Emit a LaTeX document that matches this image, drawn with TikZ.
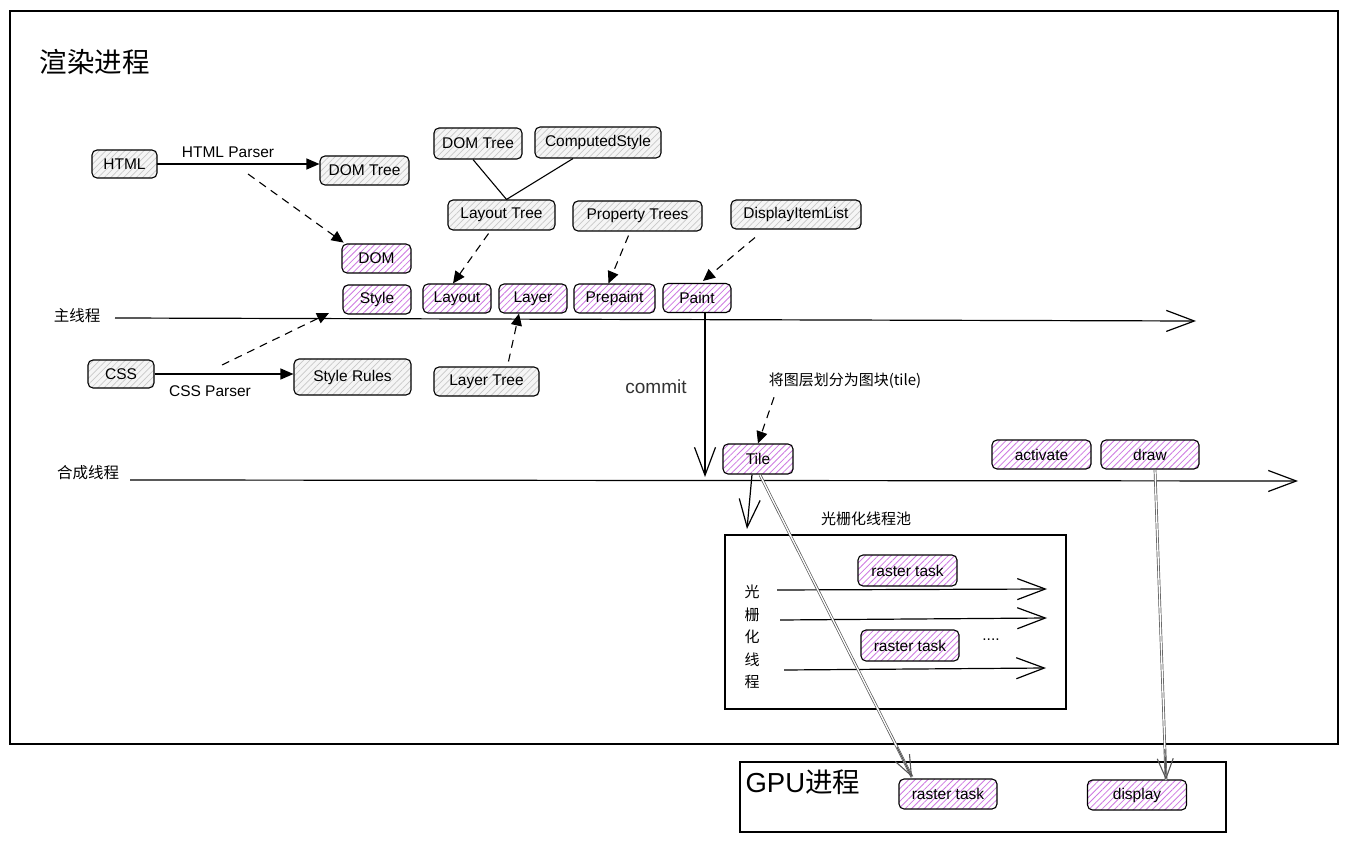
\documentclass[tikz,border=0pt]{standalone}
\usepackage{fontspec}
\setmainfont{Liberation Sans}
\newfontfamily\cjk{Noto Sans CJK SC}
\usetikzlibrary{arrows.meta,patterns.meta,calc}
\definecolor{hatchpurple}{RGB}{206,120,226}
\definecolor{hatchgray}{RGB}{200,200,200}
\definecolor{dblgray}{RGB}{85,85,85}
\begin{document}
\begin{tikzpicture}[x=1pt,y=-1pt,
  box/.style={draw, rounded corners=5pt, line width=1.1pt, minimum height=29pt,
    inner xsep=6pt, inner ysep=0pt, font=\fontsize{15.5}{18}\selectfont},
  gbox/.style={box, preaction={fill=black!4},
    pattern={Lines[angle=45,distance=4.5pt,line width=0.7pt]}, pattern color=hatchgray},
  pbox/.style={box, preaction={fill=white},
    pattern={Lines[angle=45,distance=4.5pt,line width=0.8pt]}, pattern color=hatchpurple},
  lbl/.style={font=\fontsize{15.5}{18}\selectfont},
  clbl/.style={font=\cjk\fontsize{15}{18}\selectfont},
  solidarrow/.style={line width=1.2pt, -{Triangle[length=13pt,width=11pt]}},
  dasharrow/.style={line width=1.1pt, dash pattern=on 8pt off 6pt, -{Triangle[length=12pt,width=11pt]}},
  openarrow/.style={line width=1.2pt, -{Straight Barb[length=28pt,width=21pt]}},
  dbl/.style={draw=dblgray, line width=0.7pt, double=white, double distance=1.3pt},
  dbltip/.style={draw=dblgray, line width=1.1pt, -{Straight Barb[length=20pt,width=16pt]}}
]
\useasboundingbox (0,0) rectangle (1347,842);

% process frames
\draw[line width=1.2pt] (10,11) rectangle (1338,744);
\draw[line width=1.2pt] (740,762) rectangle (1226,832);
\node[anchor=west, font=\cjk\fontsize{27.5}{30}\selectfont] (title) at (36,62) {渲染进程};
\node[anchor=west, font=\fontsize{27.5}{30}\selectfont] (gputitle) at (742,782) {GPU{\cjk 进程}};

% thread labels and time lines
\node[font=\cjk\fontsize{15.5}{18}\selectfont] (mainlbl) at (77,316) {主线程};
\node[font=\cjk\fontsize{15.5}{18}\selectfont] (complbl) at (88,473) {合成线程};
\coordinate (m0) at (115,318);
\coordinate (m1) at (1196,321);
\draw[openarrow] (m0) -- (m1);
\coordinate (c0) at (130,480);
\coordinate (c1) at (1298,481);
\draw[openarrow] (c0) -- (c1);

% main thread boxes
\node[gbox, minimum width=65pt, minimum height=28pt] (html) at (124.5,164) {HTML};
\node[gbox, minimum width=89pt] (domtree1) at (364.5,170.5) {DOM Tree};
\node[pbox, minimum width=69pt] (dom) at (376.5,258.5) {DOM};
\node[pbox, minimum width=68pt] (style) at (377,299.5) {Style};
\node[pbox, minimum width=68pt] (layout) at (457,298.5) {Layout};
\node[pbox, minimum width=68pt] (layer) at (533,298.5) {Layer};
\node[pbox, minimum width=81pt] (prepaint) at (614.5,298.5) {Prepaint};
\node[pbox, minimum width=68pt] (paint) at (697,298) {Paint};
\node[gbox, minimum width=88pt, minimum height=31pt] (domtree2) at (478,143.5) {DOM Tree};
\node[gbox, minimum width=126pt, minimum height=31pt] (cstyle) at (598,142.5) {ComputedStyle};
\node[gbox, minimum width=107pt, minimum height=30pt] (ltree) at (501.5,215) {Layout Tree};
\node[gbox, minimum width=129pt, minimum height=30pt] (ptrees) at (637.5,216) {Property Trees};
\node[gbox, minimum width=130pt] (dil) at (796,214.5) {DisplayItemList};
\node[gbox, minimum width=66pt, minimum height=28pt] (css) at (121,374) {CSS};
\node[gbox, minimum width=117pt, minimum height=36pt] (srules) at (352.5,377) {Style Rules};
\node[gbox, minimum width=105pt] (lytree) at (486.5,381.5) {Layer Tree};

\node[lbl] (hparser) at (228,152) {HTML Parser};
\node[lbl] (cparser) at (210,391) {CSS Parser};

% parsing
\draw[solidarrow] (html.east) -- (html.east -| domtree1.west);
\coordinate (hp) at (248,174);
\draw[dasharrow] (hp) -- ($(dom.north west)+(2,-1)$);
\draw[solidarrow] (css.east) -- (css.east -| srules.west);
\coordinate (cp) at (222,365);
\coordinate (cpend) at (329,313);
\draw[dasharrow] (cp) -- (cpend);

% layout tree from DOM tree and computed style
\draw[line width=1.1pt] ($(domtree2.south)+(-5,0)$) -- ($(ltree.north)+(5,0)$) -- ($(cstyle.south)+(-25,0)$);
\draw[dasharrow] ($(ltree.south)+(-13,3)$) -- ($(layout.north)+(-4,0)$);
\draw[dasharrow] ($(ptrees.south)+(-9,4)$) -- ($(prepaint.north)+(-6,0)$);
\draw[dasharrow] ($(dil.south)+(-41,8)$) -- ($(paint.north)+(6,-2)$);
\draw[dasharrow] ($(lytree.north)+(22,-5)$) -- ($(layer.south)+(-14,0)$);

% commit to compositor
\node[font=\fontsize{19}{22}\selectfont, text=black!80] (commitlbl) at (656,387) {commit};
\coordinate (cm) at (705,477);
\draw[openarrow] ($(paint.south)+(8,0)$) -- (cm);

\node[clbl] (tilelbl) at (845,381) {将图层划分为图块(tile)};
\node[pbox, minimum width=70pt, minimum height=30pt] (tile) at (758,459) {Tile};
\draw[dasharrow] ($(tilelbl.south)+(-71,5)$) -- (tile.north);
\node[pbox, minimum width=99pt] (activate) at (1041.5,454.5) {activate};
\node[pbox, minimum width=98pt] (drawbox) at (1150,454.5) {draw};

% raster thread pool
\node[clbl] (poollbl) at (866,519) {光栅化线程池};
\node[draw, line width=1.2pt, minimum width=341pt, minimum height=174pt, inner sep=0pt] (pool) at (895.5,622) {};
\coordinate (tp) at (747,529);
\draw[openarrow] ($(tile.south)+(-6,0)$) -- (tp);
\node[clbl, align=center, inner sep=0pt] (vlbl) at (752,637) {光\\[4.5pt]栅\\[4.5pt]化\\[4.5pt]线\\[4.5pt]程};
\node[pbox, minimum width=99pt, minimum height=31pt] (rt1) at (907.5,570.5) {raster task};
\node[pbox, minimum width=98pt, minimum height=31pt] (rt2) at (910,645.5) {raster task};
\node[lbl] (dots) at (991,640) {....};
\coordinate (r1a) at (777,590);
\coordinate (r1b) at (1047,589);
\coordinate (r2a) at (780,620);
\coordinate (r2b) at (1047,618);
\coordinate (r3a) at (784,670);
\coordinate (r3b) at (1046,668);
\draw[openarrow] (r1a) -- (r1b);
\draw[openarrow] (r2a) -- (r2b);
\draw[openarrow] (r3a) -- (r3b);

% GPU process
\node[pbox, minimum width=98pt, minimum height=30pt] (grt) at (948,794) {raster task};
\node[pbox, minimum width=99pt, minimum height=30pt] (disp) at (1137,795) {display};
\coordinate (g1) at (912,777);
\coordinate (g2) at (1166,780);
\coordinate (ts) at (760,475);
\coordinate (ds) at (1155,470);
\draw[dbl] (ts) -- (g1);
\draw[dbltip] ($(ts)!0.9!(g1)$) -- (g1);
\draw[dbl] (ds) -- (g2);
\draw[dbltip] ($(ds)!0.9!(g2)$) -- (g2);
\end{tikzpicture}
\end{document}
